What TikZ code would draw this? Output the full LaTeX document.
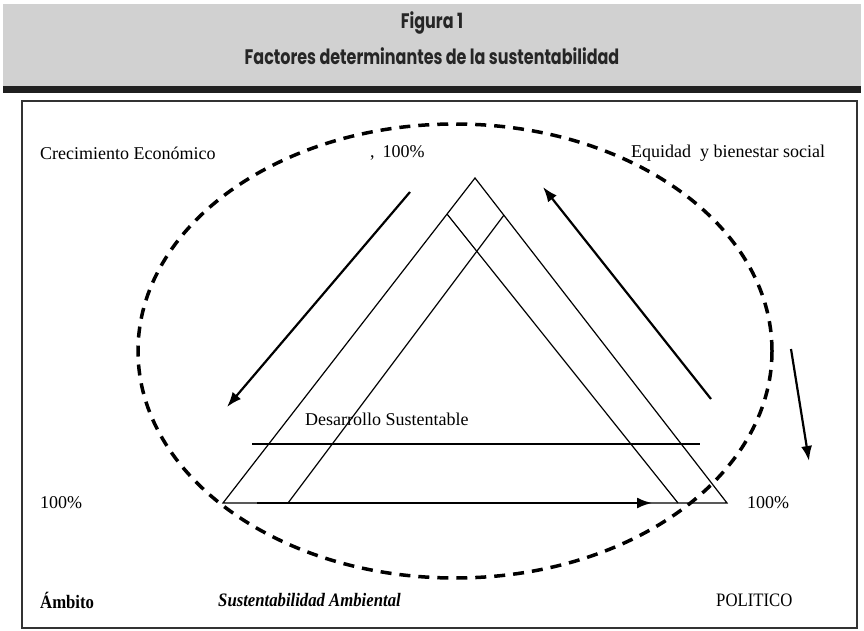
\documentclass[tikz,border=0pt]{standalone}
\usepackage{fontspec}
\setmainfont{Liberation Serif}
\newfontfamily\titlefont{Poppins}[FakeStretch=0.76]
\newfontfamily\piefont{Liberation Serif}[FakeStretch=0.88]
\usetikzlibrary{arrows.meta}

\begin{document}
\begin{tikzpicture}[x=1pt,y=-1pt,
  lbl/.style={anchor=west,inner sep=0pt,font=\fontsize{18}{20}\selectfont},
  pie/.style={anchor=west,inner sep=0pt,font=\piefont\fontsize{19}{21}\selectfont},
  lado/.style={line width=1.2pt},
  flecha/.style={line width=2.2pt,-{Latex[length=15pt,width=11pt]}},
  anillo/.style={line width=3.5pt,dash pattern=on 11pt off 8pt}]
\useasboundingbox (0,0) rectangle (864,631);

% cabecera
\fill [color=black!18] (3,4) rectangle (861,86);
\fill [color=black!88] (3,86) rectangle (861,93);
\node [color=black!85] (fig) at (432,23) {\titlefont\bfseries\fontsize{21}{24}\selectfont Figura 1};
\node [color=black!85] (tit) at (432,56) {\titlefont\bfseries\fontsize{21}{24}\selectfont Factores determinantes de la sustentabilidad};

% marco
\draw [line width=1.1pt,color=black!80] (22,101) rectangle (857,628);

% triangulo
\coordinate (A) at (475,178);
\coordinate (BL) at (223,503);
\coordinate (BR) at (727,503);
\coordinate (P) at (447,214);
\coordinate (Pb) at (678,503);
\coordinate (Q) at (504,215);
\coordinate (Qb) at (288,503);
\coordinate (H1) at (252,444);
\coordinate (H2) at (700,444);
\draw [lado] (BL)--(A)--(BR)--cycle;
\draw [lado] (P)--(Pb);
\draw [lado] (Q)--(Qb);
\draw [lado] (H1)--(H2);

% elipse punteada
\draw [anillo] (455,351) ellipse [x radius=317pt,y radius=227pt];

% flechas
\coordinate (f1a) at (410,192); \coordinate (f1b) at (227,407);
\coordinate (f2a) at (711,399); \coordinate (f2b) at (543,187);
\coordinate (f3a) at (791,349); \coordinate (f3b) at (809,461);
\coordinate (f4a) at (257,503); \coordinate (f4b) at (652,503);
\draw [flecha] (f1a)--(f1b);
\draw [flecha] (f2a)--(f2b);
\draw [flecha] (f3a)--(f3b);
\draw [flecha] (f4a)--(f4b);

% textos
\node [lbl] (crec) at (40,153) {Crecimiento Económico};
\node [lbl] (cien) at (370,153) {,\hspace{8pt}100\%};
\node [lbl] (equi) at (631,153) {Equidad\ \ y bienestar social};
\node [lbl] (desa) at (305,419) {Desarrollo Sustentable};
\node [lbl] (izq) at (40,503) {100\%};
\node [lbl] (der) at (747,503) {100\%};
\node [pie,font=\piefont\fontsize{19}{21}\selectfont\bfseries] (ambi) at (40,600) {Ámbito};
\node [pie,font=\piefont\fontsize{19}{21}\selectfont\bfseries\itshape] (sust) at (218,600) {Sustentabilidad Ambiental};
\node [pie] (poli) at (716,600) {POLITICO};
\end{tikzpicture}
\end{document}
